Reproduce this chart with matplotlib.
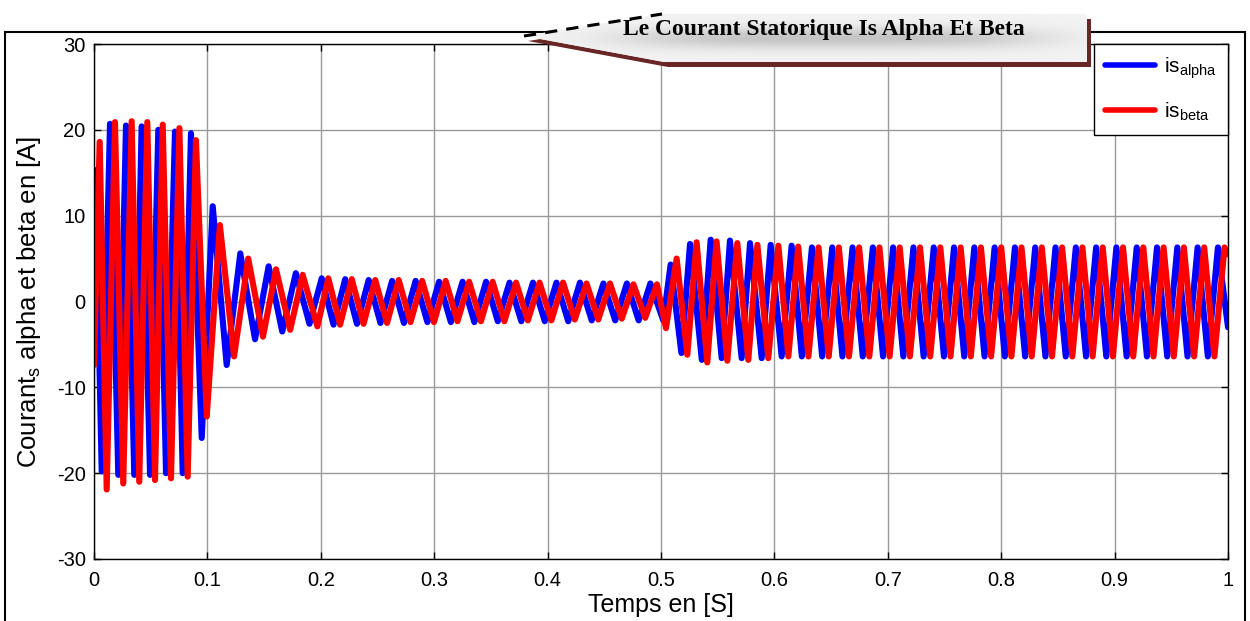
import numpy as np
import matplotlib
matplotlib.use("Agg")
import matplotlib.pyplot as plt
from matplotlib.patches import Polygon, Rectangle

# extrema (peaks/troughs), time in s, current in A
alpha_t = [0.0, 0.0012, 0.0068, 0.0141, 0.0214, 0.0282, 0.0355, 0.0420, 0.0494, 0.0567,
           0.0635, 0.0714, 0.0782, 0.0855, 0.0950, 0.1047, 0.1170, 0.1290, 0.1420, 0.1540,
           0.1660, 0.1780, 0.1900, 0.2008, 0.2112, 0.2215, 0.2319, 0.2422, 0.2526, 0.2629,
           0.2733, 0.2836, 0.2940, 0.3043, 0.3147, 0.3250, 0.3354, 0.3457, 0.3561, 0.3664,
           0.3768, 0.3871, 0.3975, 0.4078, 0.4182, 0.4285, 0.4389, 0.4492, 0.4596, 0.4699,
           0.4803, 0.4906, 0.5020, 0.5085, 0.5180, 0.5256, 0.5360, 0.5438, 0.5535, 0.5608,
           0.5711, 0.5785, 0.5888, 0.5967, 0.6064, 0.6152, 0.6242, 0.6331, 0.6421, 0.6510,
           0.6600, 0.6689, 0.6779, 0.6868, 0.6958, 0.7047, 0.7137, 0.7226, 0.7316, 0.7405,
           0.7495, 0.7584, 0.7674, 0.7763, 0.7853, 0.7942, 0.8032, 0.8121, 0.8211, 0.8300,
           0.8390, 0.8479, 0.8569, 0.8658, 0.8748, 0.8837, 0.8927, 0.9016, 0.9106, 0.9195,
           0.9285, 0.9374, 0.9464, 0.9553, 0.9643, 0.9732, 0.9822, 0.9911, 1.0]
alpha_i = [4.0, 15.3, -19.8, 20.7, -20.2, 20.5, -20.2, 20.4, -20.2, 20.0,
           -20.0, 19.8, -20.0, 19.6, -15.9, 11.1, -7.4, 5.6, -4.4, 4.1,
           -3.5, 3.3, -2.6, 2.7, -2.7, 2.6, -2.6, 2.5, -2.5, 2.4,
           -2.5, 2.4, -2.4, 2.3, -2.4, 2.3, -2.4, 2.3, -2.3, 2.2,
           -2.3, 2.2, -2.3, 2.2, -2.3, 2.2, -2.2, 2.1, -2.2, 2.1,
           -2.2, 2.1, -2.2, 4.3, -6.0, 6.7, -6.8, 7.2, -6.6, 7.1,
           -6.6, 6.8, -6.6, 6.6, -6.4, 6.5, -6.4, 6.3, -6.4, 6.3,
           -6.4, 6.3, -6.4, 6.3, -6.4, 6.3, -6.4, 6.3, -6.4, 6.3,
           -6.4, 6.3, -6.4, 6.3, -6.4, 6.3, -6.4, 6.3, -6.4, 6.3,
           -6.4, 6.3, -6.4, 6.3, -6.4, 6.3, -6.4, 6.3, -6.4, 6.3,
           -6.4, 6.3, -6.4, 6.3, -6.4, 6.3, -6.4, 6.3, -3.0]

beta_t = [0.0, 0.0050, 0.0112, 0.0185, 0.0258, 0.0332, 0.0399, 0.0470, 0.0538, 0.0606,
          0.0679, 0.0753, 0.0826, 0.0899, 0.0994, 0.1110, 0.1235, 0.1360, 0.1490, 0.1605,
          0.1730, 0.1840, 0.1970, 0.2066, 0.2170, 0.2273, 0.2377, 0.2480, 0.2584, 0.2687,
          0.2791, 0.2894, 0.2998, 0.3101, 0.3205, 0.3308, 0.3412, 0.3515, 0.3619, 0.3722,
          0.3826, 0.3929, 0.4033, 0.4136, 0.4240, 0.4343, 0.4447, 0.4550, 0.4654, 0.4757,
          0.4861, 0.4964, 0.5044, 0.5138, 0.5232, 0.5314, 0.5408, 0.5490, 0.5585, 0.5673,
          0.5770, 0.5850, 0.5946, 0.6035, 0.6123, 0.6210, 0.6300, 0.6389, 0.6479, 0.6568,
          0.6658, 0.6747, 0.6837, 0.6926, 0.7016, 0.7105, 0.7195, 0.7284, 0.7374, 0.7463,
          0.7553, 0.7642, 0.7732, 0.7821, 0.7911, 0.8000, 0.8090, 0.8179, 0.8269, 0.8358,
          0.8448, 0.8537, 0.8627, 0.8716, 0.8806, 0.8895, 0.8985, 0.9074, 0.9164, 0.9253,
          0.9343, 0.9432, 0.9522, 0.9611, 0.9701, 0.9790, 0.9880, 0.9969, 1.0]
beta_i = [-7.4, 18.6, -21.9, 20.9, -21.2, 21.0, -21.0, 20.9, -20.8, 20.6,
          -20.6, 20.2, -20.4, 18.8, -13.4, 8.9, -6.4, 5.0, -4.1, 3.75,
          -3.3, 3.1, -2.9, 2.7, -2.7, 2.6, -2.6, 2.5, -2.5, 2.5,
          -2.4, 2.4, -2.4, 2.4, -2.3, 2.3, -2.3, 2.3, -2.3, 2.2,
          -2.2, 2.2, -2.2, 2.2, -2.1, 2.1, -2.1, 2.1, -2.0, 2.0,
          -1.9, 2.0, -3.1, 5.0, -6.2, 6.9, -7.1, 7.0, -6.9, 6.8,
          -6.8, 6.6, -6.6, 6.5, -6.4, 6.4, -6.4, 6.3, -6.4, 6.3,
          -6.4, 6.3, -6.4, 6.3, -6.4, 6.3, -6.4, 6.3, -6.4, 6.3,
          -6.4, 6.3, -6.4, 6.3, -6.4, 6.3, -6.4, 6.3, -6.4, 6.3,
          -6.4, 6.3, -6.4, 6.3, -6.4, 6.3, -6.4, 6.3, -6.4, 6.3,
          -6.4, 6.3, -6.4, 6.3, -6.4, 6.3, -6.4, 6.3, 5.5]

x_ticks = [0, 0.1, 0.2, 0.3, 0.4, 0.5, 0.6, 0.7, 0.8, 0.9, 1]
x_ticklabels = ["0", "0.1", "0.2", "0.3", "0.4", "0.5", "0.6", "0.7", "0.8", "0.9", "1"]
y_ticks = [-30, -20, -10, 0, 10, 20, 30]

title_text = "Le Courant Statorique Is Alpha Et Beta"

plt.rcParams['font.family'] = ['Liberation Sans', 'DejaVu Sans']
plt.rcParams['mathtext.fontset'] = 'custom'
plt.rcParams['mathtext.rm'] = 'Liberation Sans'
plt.rcParams['mathtext.it'] = 'Liberation Sans'
plt.rcParams['axes.unicode_minus'] = False

W, H = 1250, 621
fig = plt.figure(figsize=(W / 100, H / 100), dpi=100)


def fx(px):
    return px / W


def fy(py):
    return 1 - py / H


# outer frame
fig.patches.append(Rectangle((fx(5), fy(640)), fx(1245) - fx(5), fy(32) - fy(640),
                             transform=fig.transFigure, fill=False, ec='black', lw=1.5,
                             zorder=0))

ax = fig.add_axes([fx(94), fy(559), fx(1228) - fx(94), fy(44) - fy(559)])
ax.plot(alpha_t, alpha_i, color='#0000FF', lw=4.4, solid_joinstyle='round',
        solid_capstyle='round', label='is$_{\\mathrm{alpha}}$')
ax.plot(beta_t, beta_i, color='#FF0000', lw=4.4, solid_joinstyle='round',
        solid_capstyle='round', label='is$_{\\mathrm{beta}}$')

ax.set_xlim(0, 1)
ax.set_ylim(-30, 30)
ax.set_xticks(x_ticks)
ax.set_xticklabels(x_ticklabels)
ax.set_yticks(y_ticks)
ax.grid(True, color='#9a9a9a', lw=1.0)
ax.set_axisbelow(True)
ax.tick_params(direction='in', top=True, right=True, length=5, width=1,
               labelsize=14.5)
ax.tick_params(axis='x', pad=9)
ax.tick_params(axis='y', pad=6)
for s in ax.spines.values():
    s.set_linewidth(1.0)
ax.set_xlabel('Temps en [S]', fontsize=18, labelpad=2)
ax.set_ylabel('Courant$_{\\mathrm{s}}$ alpha et beta en [A]', fontsize=18.5, labelpad=10)

leg = ax.legend(loc='upper right', fontsize=15, frameon=True, fancybox=False,
                edgecolor='black', framealpha=1, borderaxespad=0, handlelength=2.4,
                labelspacing=0.95, borderpad=0.55, handletextpad=0.4)
leg.get_frame().set_linewidth(1.0)
for ln in leg.get_lines():
    ln.set_linewidth(4)

# title banner (callout arrow)
banner = [(524, 36), (662, 14), (1087, 14), (1087, 62), (664, 62)]
shadow = [(x + 4, y + 5) for x, y in banner]
fig.patches.append(Polygon([(fx(x), fy(y)) for x, y in shadow], closed=True,
                           transform=fig.transFigure, fc='#6a2626', ec='none', zorder=5))
poly = Polygon([(fx(x), fy(y)) for x, y in banner], closed=True,
               transform=fig.transFigure, fc='#ececec', ec='none', zorder=6)
fig.patches.append(poly)

bax = fig.add_axes([fx(524), fy(62), fx(1087) - fx(524), fy(14) - fy(62)], zorder=7)
bax.set_xlim(0, 1)
bax.set_ylim(0, 1)
bax.axis('off')
gx, gy = np.meshgrid(np.linspace(-1, 1, 300), np.linspace(-1, 1, 60))
shade = 0.95 - 0.18 * np.exp(-(gy / 0.45) ** 2) * np.exp(-((gx - 0.1) / 0.75) ** 4)
img = bax.imshow(shade, cmap='gray', vmin=0, vmax=1, extent=[0, 1, 0, 1],
                 aspect='auto', zorder=1)
clip = Polygon([(fx(x), fy(y)) for x, y in banner], closed=True,
               transform=fig.transFigure, fc='none', ec='none')
img.set_clip_path(clip)
# jagged dark upper edge
fig.lines.append(plt.Line2D([fx(524), fx(662)], [fy(36), fy(14)],
                            transform=fig.transFigure, color='black', lw=2.2,
                            dashes=(4, 3), zorder=8))
fig.text(fx(824), fy(30), title_text, ha='center', va='center', fontsize=17,
         fontweight='bold', family=['Liberation Serif', 'DejaVu Serif'], zorder=9)

fig.savefig('out.png', dpi=100)
